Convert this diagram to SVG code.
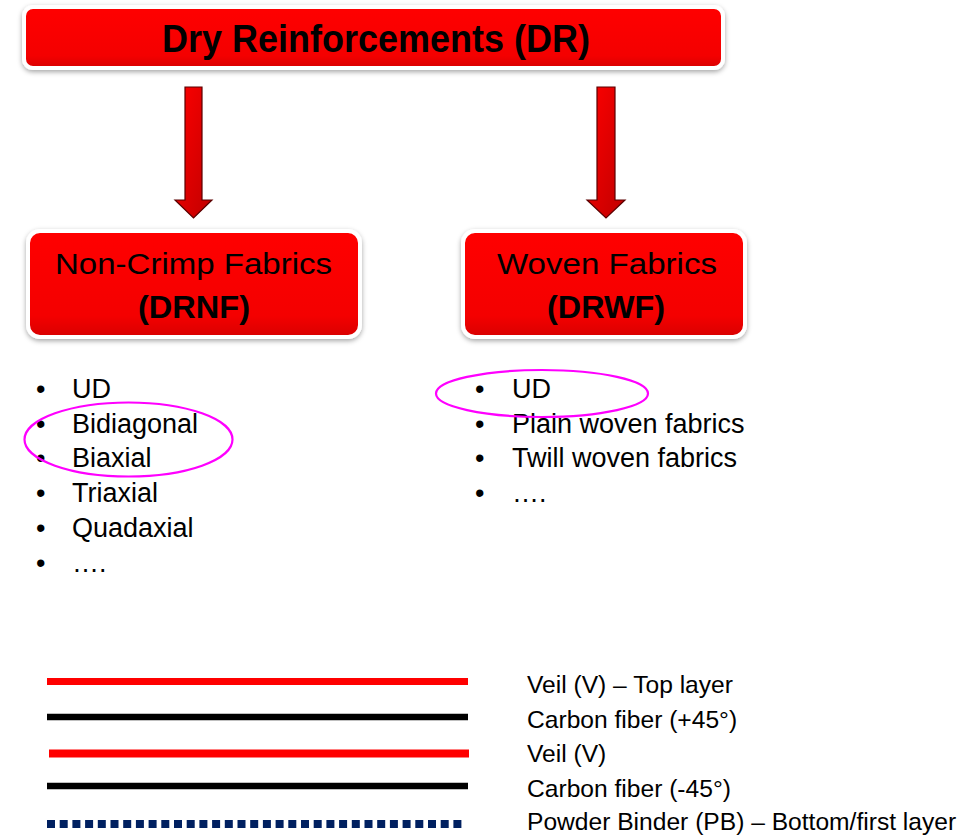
<svg xmlns="http://www.w3.org/2000/svg" width="979" height="836" viewBox="0 0 979 836">
<style>
  .box { fill: url(#redGrad); stroke: #ffffff; stroke-width: 4; filter: url(#shadow); }
  .t { font-family: "Liberation Sans", Arial, sans-serif; fill: #000; }
  .arrow { fill: url(#arrowGrad); stroke: #5a0000; stroke-width: 1.2; }
  .ell { fill: none; stroke: #ff00ff; stroke-width: 2.2; }
  .bl { font-family: "Liberation Sans", Arial, sans-serif; font-size: 27px; fill: #000; }
  .lg { font-family: "Liberation Sans", Arial, sans-serif; font-size: 24.6px; fill: #000; }
</style>
<defs>
  <linearGradient id="redGrad" x1="0" y1="0" x2="0" y2="1">
    <stop offset="0" stop-color="#ff0000"/>
    <stop offset="0.8" stop-color="#f40000"/>
    <stop offset="1" stop-color="#d80000"/>
  </linearGradient>
  <linearGradient id="arrowGrad" x1="0" y1="0" x2="1" y2="1">
    <stop offset="0" stop-color="#ff0000"/>
    <stop offset="1" stop-color="#c00000"/>
  </linearGradient>
  <filter id="shadow" x="-5%" y="-10%" width="110%" height="130%">
    <feDropShadow dx="0" dy="2" stdDeviation="2.5" flood-color="#000" flood-opacity="0.35"/>
  </filter>
</defs>
<rect width="979" height="836" fill="#ffffff"/>

<g id="dr">
  <rect class="box" x="24" y="7" width="699" height="61" rx="9"/>
  <text class="t" x="376" y="52" font-size="38" font-weight="bold" text-anchor="middle" textLength="428" lengthAdjust="spacingAndGlyphs">Dry Reinforcements (DR)</text>
</g>

<g id="connectors">
  <polygon class="arrow" points="185,87 202,87 202,200 212,200 193.5,218 175,200 185,200"/>
  <polygon class="arrow" points="597,87 615,87 615,200 625,200 606,218 587,200 597,200"/>
</g>

<g id="drnf">
  <rect class="box" x="28" y="231" width="332" height="106" rx="12"/>
  <text class="t" x="193.5" y="274" font-size="30" text-anchor="middle" textLength="277" lengthAdjust="spacingAndGlyphs">Non-Crimp Fabrics</text>
  <text class="t" x="194" y="318" font-size="32" font-weight="bold" text-anchor="middle" textLength="112" lengthAdjust="spacingAndGlyphs">(DRNF)</text>
</g>

<g id="drwf">
  <rect class="box" x="463" y="231" width="282" height="106" rx="12"/>
  <text class="t" x="607" y="274" font-size="30" text-anchor="middle" textLength="220" lengthAdjust="spacingAndGlyphs">Woven Fabrics</text>
  <text class="t" x="606" y="318" font-size="32" font-weight="bold" text-anchor="middle" textLength="118" lengthAdjust="spacingAndGlyphs">(DRWF)</text>
</g>

<g id="list-nf">
  <text class="bl" x="36" y="398">•</text><text class="bl" x="72" y="398">UD</text>
  <text class="bl" x="36" y="433">•</text><text class="bl" x="72" y="433">Bidiagonal</text>
  <text class="bl" x="36" y="467">•</text><text class="bl" x="72" y="467">Biaxial</text>
  <text class="bl" x="36" y="502">•</text><text class="bl" x="72" y="502">Triaxial</text>
  <text class="bl" x="36" y="537">•</text><text class="bl" x="72" y="537">Quadaxial</text>
  <text class="bl" x="36" y="572">•</text><text class="bl" x="72" y="572">….</text>
  <ellipse class="ell" cx="128.5" cy="439.5" rx="104" ry="37"/>
</g>

<g id="list-wf">
  <text class="bl" x="475" y="398">•</text><text class="bl" x="512" y="398">UD</text>
  <text class="bl" x="475" y="433">•</text><text class="bl" x="512" y="433">Plain woven fabrics</text>
  <text class="bl" x="475" y="467">•</text><text class="bl" x="512" y="467">Twill woven fabrics</text>
  <text class="bl" x="475" y="502">•</text><text class="bl" x="512" y="502">….</text>
  <ellipse class="ell" cx="542" cy="393.5" rx="106" ry="23.5"/>
</g>

<g id="layers">
  <line x1="47" y1="681.5" x2="468" y2="681.5" stroke="#ff0000" stroke-width="7"/>
  <line x1="47" y1="717" x2="468" y2="717" stroke="#000000" stroke-width="6.5"/>
  <line x1="49" y1="753.5" x2="469" y2="753.5" stroke="#ff0000" stroke-width="8"/>
  <line x1="47" y1="786" x2="468" y2="786" stroke="#000000" stroke-width="6.5"/>
  <line x1="47" y1="824" x2="465" y2="824" stroke="#002060" stroke-width="8" stroke-dasharray="8 4.7"/>
  <text class="lg" x="527" y="693">Veil (V) – Top layer</text>
  <text class="lg" x="527" y="728">Carbon fiber (+45°)</text>
  <text class="lg" x="527" y="762">Veil (V)</text>
  <text class="lg" x="527" y="797">Carbon fiber (-45°)</text>
  <text class="lg" x="527" y="830">Powder Binder (PB) – Bottom/first layer</text>
</g>
</svg>
